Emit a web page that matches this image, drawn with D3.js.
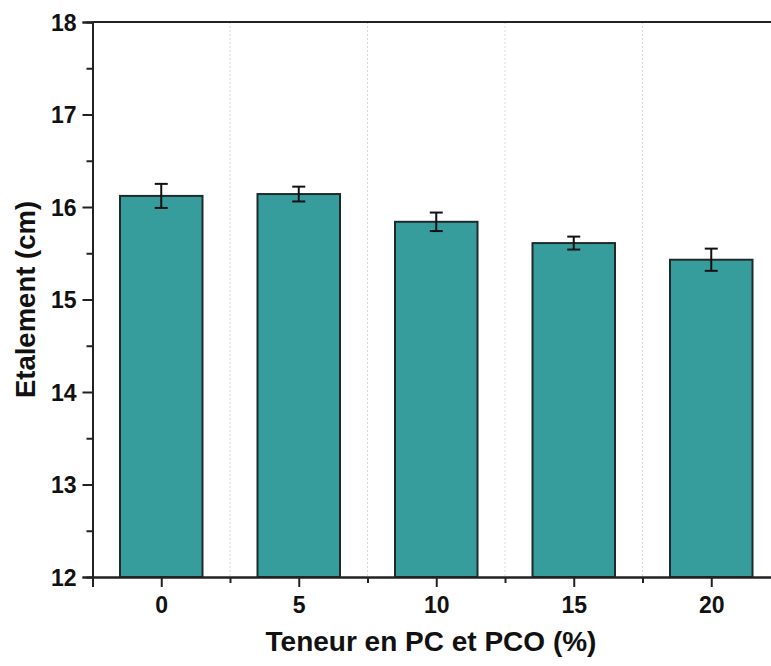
<!DOCTYPE html>
<html>
<head>
<meta charset="utf-8">
<script src="https://cdn.jsdelivr.net/npm/d3@7"></script>
<style>
  html, body { margin: 0; padding: 0; background: #fff; overflow: hidden; }
  text { font-family: Arial, "Liberation Sans", sans-serif; font-weight: bold; fill: #111; }
</style>
</head>
<body>
<div id="chart"></div>
<script>
const categories = [0, 5, 10, 15, 20];
const values = [16.12, 16.14, 15.84, 15.61, 15.43];
const errors = [0.13, 0.08, 0.10, 0.07, 0.12];
const yTicks = [12, 13, 14, 15, 16, 17, 18];

const width = 771, height = 666;
const margin = { top: 22, left: 92.5, bottom: 89 };
const plotW = 687.5; // extends past the window edge like the reference
const axisColor = '#222';

const svg = d3.select('#chart').append('svg')
  .attr('width', width)
  .attr('height', height);

const x = d3.scaleLinear()
  .domain([-2.5, 22.5])
  .range([margin.left, margin.left + plotW]);

const y = d3.scaleLinear()
  .domain([12, 18])
  .range([height - margin.bottom, margin.top]);

// dotted vertical gridlines between categories
const gridPos = [2.5, 7.5, 12.5, 17.5];
svg.append('g')
  .selectAll('line')
  .data(gridPos)
  .join('line')
  .attr('x1', d => x(d)).attr('x2', d => x(d))
  .attr('y1', y(18)).attr('y2', y(12))
  .attr('stroke', '#d8d8d8')
  .attr('stroke-width', 1)
  .attr('stroke-dasharray', '2,2');

// bars
const data = categories.map((c, i) => ({ c, v: values[i], e: errors[i] }));
const barW = x(3) - x(0);

svg.append('g')
  .selectAll('rect')
  .data(data)
  .join('rect')
  .attr('x', d => x(d.c) - barW / 2)
  .attr('y', d => y(d.v))
  .attr('width', barW)
  .attr('height', d => y(12) - y(d.v))
  .attr('fill', '#369d9c')
  .attr('stroke', '#1f2b2b')
  .attr('stroke-width', 2);

// error bars
const eb = svg.append('g').attr('stroke', '#111').attr('stroke-width', 2);
eb.selectAll('.stem').data(data).join('line')
  .attr('x1', d => x(d.c)).attr('x2', d => x(d.c))
  .attr('y1', d => y(d.v + d.e)).attr('y2', d => y(d.v - d.e));
eb.selectAll('.capT').data(data).join('line')
  .attr('x1', d => x(d.c) - 6.5).attr('x2', d => x(d.c) + 6.5)
  .attr('y1', d => y(d.v + d.e)).attr('y2', d => y(d.v + d.e));
eb.selectAll('.capB').data(data).join('line')
  .attr('x1', d => x(d.c) - 6.5).attr('x2', d => x(d.c) + 6.5)
  .attr('y1', d => y(d.v - d.e)).attr('y2', d => y(d.v - d.e));

// axes
const yAxis = svg.append('g')
  .attr('transform', `translate(${margin.left},0)`)
  .call(d3.axisLeft(y).tickValues(yTicks).tickSize(10).tickPadding(6).tickFormat(d3.format('d')));
const yMinor = svg.append('g')
  .attr('transform', `translate(${margin.left},0)`)
  .call(d3.axisLeft(y).tickValues(d3.range(12.5, 18, 1)).tickSize(6).tickFormat(''));

const xAxis = svg.append('g')
  .attr('transform', `translate(0,${y(12)})`)
  .call(d3.axisBottom(x).tickValues(categories).tickSize(10).tickPadding(10).tickFormat(d3.format('d')));
const xMinor = svg.append('g')
  .attr('transform', `translate(0,${y(12)})`)
  .call(d3.axisBottom(x).tickValues(gridPos).tickSize(6).tickFormat(''));

[yAxis, yMinor, xAxis, xMinor].forEach(g => {
  g.select('.domain').attr('stroke', axisColor).attr('stroke-width', 2);
  g.selectAll('.tick line').attr('stroke', axisColor).attr('stroke-width', 2);
  g.selectAll('.tick text').style('font-size', '23px').style('font-weight', 'bold')
    .style('font-family', 'Arial, "Liberation Sans", sans-serif').attr('fill', '#111');
});
yAxis.selectAll('.tick text').attr('dy', '0.36em');

// top and right border
svg.append('line')
  .attr('x1', margin.left).attr('x2', margin.left + plotW)
  .attr('y1', y(18)).attr('y2', y(18))
  .attr('stroke', axisColor).attr('stroke-width', 2);
svg.append('line')
  .attr('x1', margin.left + plotW).attr('x2', margin.left + plotW)
  .attr('y1', y(18)).attr('y2', y(12))
  .attr('stroke', axisColor).attr('stroke-width', 2);

// axis titles
svg.append('text')
  .attr('x', 431)
  .attr('y', 651)
  .attr('text-anchor', 'middle')
  .style('font-size', '28px')
  .text('Teneur en PC et PCO (%)');

svg.append('text')
  .attr('transform', `translate(35,${(y(12) + y(18)) / 2}) rotate(-90)`)
  .attr('text-anchor', 'middle')
  .style('font-size', '27.5px')
  .text('Etalement (cm)');
</script>
</body>
</html>
